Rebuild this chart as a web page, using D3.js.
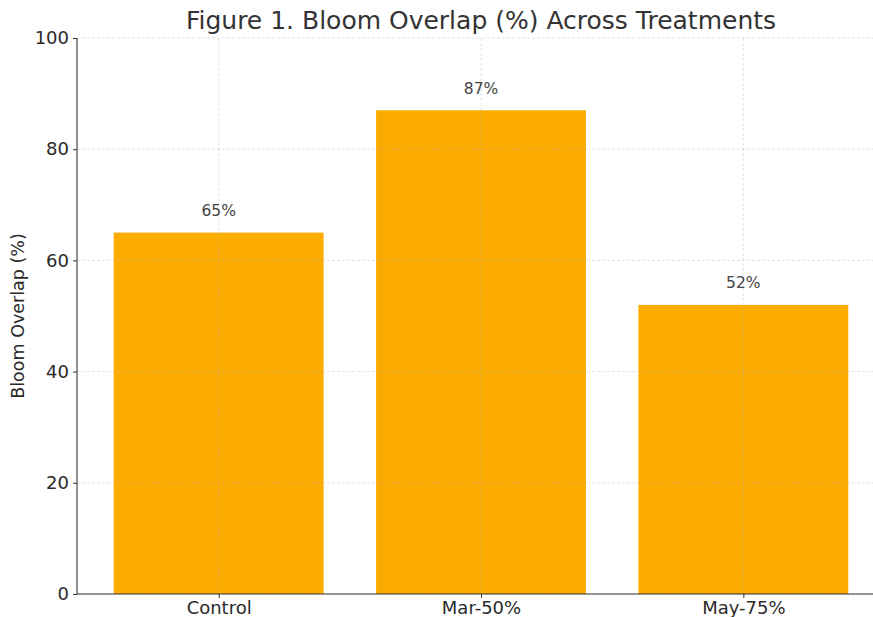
<html>
<head>
<style>
  body { margin: 0; background: #fff; }
  text { font-family: "DejaVu Sans", sans-serif; }
</style>
</head>
<body>
<svg id="plot"></svg>
<script src="https://d3js.org/d3.v7.min.js"></script>
<script>

// data
var treatments = ["Control", "Mar-50%", "May-75%"];
var overlap = [65, 87, 52];
var yTicks = [0, 20, 40, 60, 80, 100];

var screen = {width: 873, height: 617};
var margins = {top: 38, left: 77};
// plot runs a bit past the right edge, like the cropped original
var graph = {width: 808, height: 556};

var svg = d3.select("#plot")
    .attr("width", screen.width)
    .attr("height", screen.height);

var x = d3.scaleLinear()
    .domain([-0.54, 2.54])
    .range([0, graph.width]);

var y = d3.scaleLinear()
    .domain([0, 100])
    .range([graph.height, 0]);

var g = svg.append("g")
    .attr("transform", "translate(" + margins.left + "," + margins.top + ")");

// bars
g.selectAll("rect.bar")
    .data(overlap)
    .enter()
    .append("rect")
    .classed("bar", true)
    .attr("x", function(d, i) { return x(i - 0.4); })
    .attr("width", x(0.4) - x(-0.4))
    .attr("y", function(d) { return y(d); })
    .attr("height", function(d) { return graph.height - y(d); })
    .attr("fill", "#fcac00");

// grid on top, faint
var grid = g.append("g").attr("class", "grid");
grid.selectAll("line.h")
    .data(yTicks)
    .enter()
    .append("line")
    .attr("x1", 0)
    .attr("x2", graph.width)
    .attr("y1", function(d) { return y(d); })
    .attr("y2", function(d) { return y(d); })
    .attr("stroke", "#b0b0b0")
    .attr("stroke-opacity", 0.45)
    .attr("stroke-dasharray", "3,2")
    .attr("stroke-width", 0.8);
grid.selectAll("line.v")
    .data(treatments)
    .enter()
    .append("line")
    .attr("x1", function(d, i) { return x(i); })
    .attr("x2", function(d, i) { return x(i); })
    .attr("y1", 0)
    .attr("y2", graph.height)
    .attr("stroke", "#b0b0b0")
    .attr("stroke-opacity", 0.45)
    .attr("stroke-dasharray", "3,2")
    .attr("stroke-width", 0.8);

// value labels
g.selectAll("text.val")
    .data(overlap)
    .enter()
    .append("text")
    .classed("val", true)
    .attr("x", function(d, i) { return x(i); })
    .attr("y", function(d) { return y(d + 3); })
    .attr("text-anchor", "middle")
    .attr("font-size", 15.5)
    .attr("fill", "#444")
    .text(function(d) { return d + "%"; });

// axes
var yAxis = d3.axisLeft(y).tickValues(yTicks).tickSize(4).tickPadding(4);
var xAxis = d3.axisBottom(x).tickValues([0, 1, 2])
    .tickFormat(function(d) { return treatments[d]; })
    .tickSize(4).tickPadding(3);

var ya = g.append("g").call(yAxis);
var xa = g.append("g")
    .attr("transform", "translate(0," + graph.height + ")")
    .call(xAxis);

[ya, xa].forEach(function(a) {
    a.select(".domain").remove();
    a.selectAll(".tick line").attr("stroke", "#333");
    a.selectAll(".tick text").attr("font-size", 18).attr("fill", "#2a2a2a");
});

// spines (left and bottom only)
g.append("line")
    .attr("x1", 0).attr("x2", 0)
    .attr("y1", 0).attr("y2", graph.height)
    .attr("stroke", "#333").attr("stroke-width", 1.1);
g.append("line")
    .attr("x1", 0).attr("x2", graph.width)
    .attr("y1", graph.height).attr("y2", graph.height)
    .attr("stroke", "#333").attr("stroke-width", 1.1);

// title and label
svg.append("text")
    .attr("x", margins.left + graph.width / 2)
    .attr("y", 29)
    .attr("text-anchor", "middle")
    .attr("font-size", 25)
    .attr("fill", "#333")
    .text("Figure 1. Bloom Overlap (%) Across Treatments");

svg.append("text")
    .attr("transform", "translate(24," + (margins.top + graph.height / 2) + ") rotate(-90)")
    .attr("text-anchor", "middle")
    .attr("font-size", 17.5)
    .attr("fill", "#2a2a2a")
    .text("Bloom Overlap (%)");

</script>
</body>
</html>
